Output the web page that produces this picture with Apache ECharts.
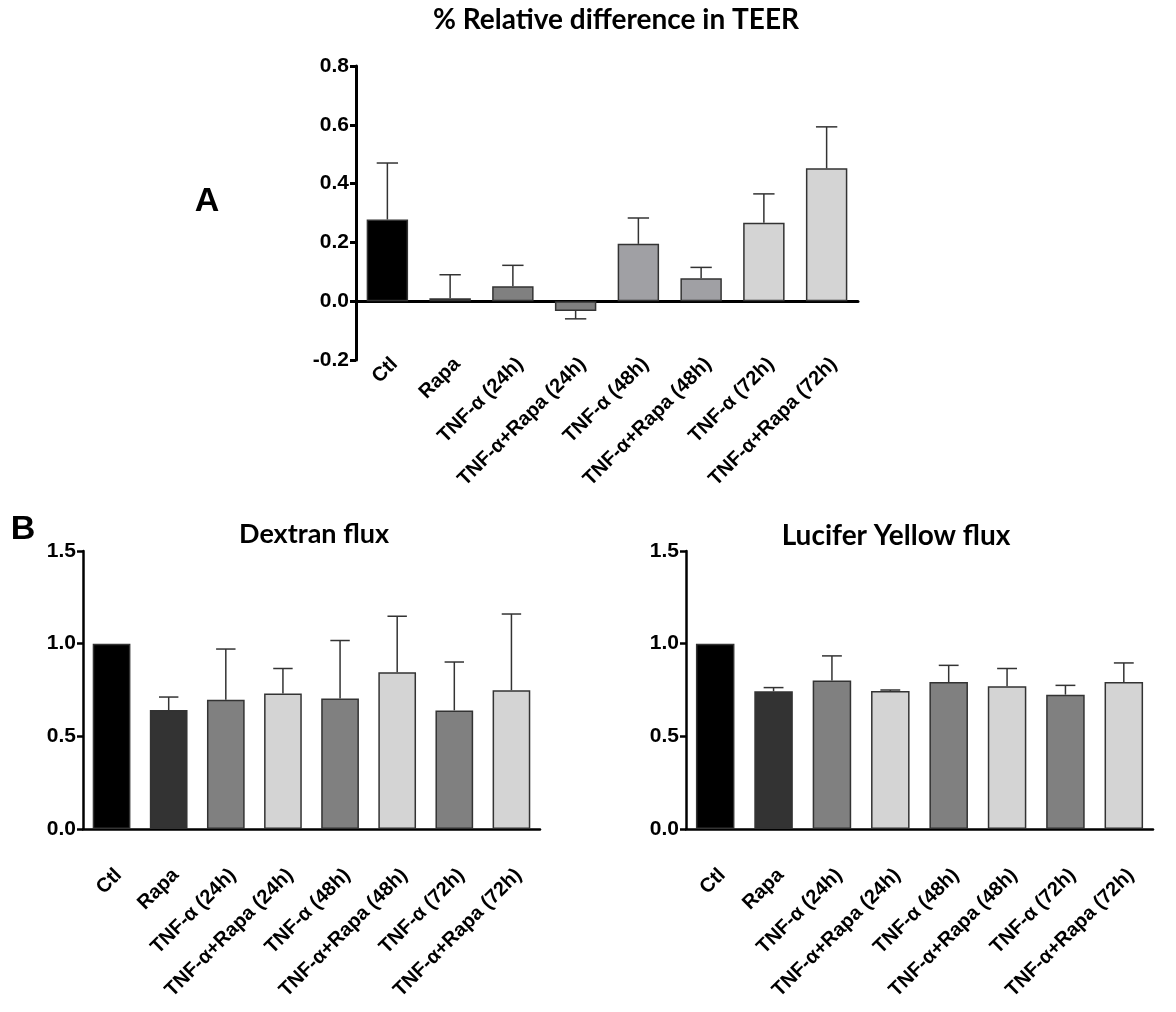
<!DOCTYPE html>
<html>
<head>
<meta charset="utf-8">
<script src="https://cdn.jsdelivr.net/npm/echarts@6/dist/echarts.min.js"></script>
<style>
  html, body { margin: 0; padding: 0; background: #fff; }
  #chart { width: 1176px; height: 1012px; }
</style>
</head>
<body>
<div id="chart"></div>
<script>
// groups on the x axis (same for all three panels)
const categories = ['Ctl', 'Rapa', 'TNF-α (24h)', 'TNF-α+Rapa (24h)', 'TNF-α (48h)', 'TNF-α+Rapa (48h)', 'TNF-α (72h)', 'TNF-α+Rapa (72h)']

// A: % relative difference in TEER (mean, and end of the error bar)
const teerMean = [0.278, 0.01, 0.051, -0.033, 0.195, 0.078, 0.267, 0.452]
const teerErr = [0.470, 0.09, 0.122, -0.060, 0.283, 0.115, 0.365, 0.593]

// B: Dextran flux
const dextranMean = [1.0, 0.642, 0.698, 0.731, 0.704, 0.846, 0.640, 0.749]
const dextranErr = [null, 0.712, 0.971, 0.866, 1.017, 1.148, 0.901, 1.160]

// B: Lucifer Yellow flux
const luciferMean = [1.0, 0.743, 0.801, 0.745, 0.793, 0.770, 0.725, 0.793]
const luciferErr = [null, 0.763, 0.934, 0.750, 0.883, 0.866, 0.775, 0.896]

// y axis ticks
const teerTicks = { min: -0.2, max: 0.8, interval: 0.2 }
const fluxTicks = { min: 0, max: 1.5, interval: 0.5 }

const teerColors = ['#000000', '#2b2b2b', '#808080', '#808080', '#a0a0a4', '#a0a0a4', '#d4d4d4', '#d4d4d4']
const fluxColors = ['#000000', '#333333', '#808080', '#d4d4d4', '#808080', '#d4d4d4', '#808080', '#d4d4d4']

const chart = echarts.init(document.getElementById('chart'))

const sansBold = { fontFamily: 'Liberation Sans, Arial, sans-serif', fontWeight: 'bold', color: '#000' }
const titleFont = 'Lato, "Open Sans", sans-serif'

function xAxisOf (gridIndex, lineW, margin) {
    return {
        type: 'category',
        gridIndex: gridIndex,
        data: categories,
        axisLine: { onZero: true, lineStyle: { color: '#000', width: lineW } },
        axisTick: { alignWithLabel: true, length: 7, lineStyle: { color: '#000', width: lineW } },
        axisLabel: Object.assign({
            rotate: 45,
            interval: 0,
            fontSize: 20,
            margin: margin,
            verticalAlign: 'top'
        }, sansBold),
        splitLine: { show: false }
    }
}

function yAxisOf (gridIndex, ticks, lineW) {
    return {
        type: 'value',
        gridIndex: gridIndex,
        min: ticks.min,
        max: ticks.max,
        interval: ticks.interval,
        axisLine: { show: true, lineStyle: { color: '#000', width: lineW } },
        axisTick: { show: true, length: 6, lineStyle: { color: '#000', width: lineW } },
        axisLabel: Object.assign({
            fontSize: 21,
            margin: 7,
            formatter: v => v.toFixed(1)
        }, sansBold),
        splitLine: { show: false }
    }
}

function barSeries (idx, means, colors) {
    return {
        type: 'bar',
        xAxisIndex: idx,
        yAxisIndex: idx,
        barWidth: '66%',
        data: means.map((v, i) => ({
            value: v,
            itemStyle: { color: colors[i] }
        })),
        itemStyle: { borderColor: '#333', borderWidth: 1.5 },
        z: 3
    }
}

// error bar: stem from the mean to the end value, plus a cap
function renderError (params, api) {
    const end = api.value(2)
    if (end === null || isNaN(end)) return
    const p0 = api.coord([api.value(0), api.value(1)])
    const p1 = api.coord([api.value(0), end])
    const half = api.size([1, 0])[0] * 0.17
    const style = { stroke: '#333', lineWidth: 1.5 }
    return {
        type: 'group',
        children: [
            { type: 'line', shape: { x1: p0[0], y1: p0[1], x2: p1[0], y2: p1[1] }, style: style },
            { type: 'line', shape: { x1: p1[0] - half, y1: p1[1], x2: p1[0] + half, y2: p1[1] }, style: style }
        ]
    }
}

function errorSeries (idx, means, errs) {
    return {
        type: 'custom',
        xAxisIndex: idx,
        yAxisIndex: idx,
        renderItem: renderError,
        data: means.map((v, i) => [i, v, errs[i]]),
        z: 2,
        silent: true
    }
}

function heading (text, x, y, size) {
    return {
        type: 'text',
        x: x,
        y: y,
        style: {
            text: text,
            fontSize: size,
            fontWeight: 'bold',
            fontFamily: titleFont,
            fill: '#000',
            align: 'center',
            verticalAlign: 'middle'
        }
    }
}

function panelLetter (text, x, y) {
    return {
        type: 'text',
        x: x,
        y: y,
        style: {
            text: text,
            fontSize: 34,
            fontWeight: 'bold',
            fontFamily: 'Liberation Sans, Arial, sans-serif',
            fill: '#000',
            align: 'center',
            verticalAlign: 'middle'
        }
    }
}

chart.setOption({
    animation: false,
    backgroundColor: '#fff',
    grid: [
        { left: 356, top: 66, width: 502, height: 294 },
        { left: 83, top: 551, width: 457, height: 278 },
        { left: 686, top: 551, width: 467, height: 278 }
    ],
    xAxis: [
        xAxisOf(0, 3, -6),
        xAxisOf(1, 2.5, 36),
        xAxisOf(2, 2.5, 36)
    ],
    yAxis: [
        yAxisOf(0, teerTicks, 3),
        yAxisOf(1, fluxTicks, 2.5),
        yAxisOf(2, fluxTicks, 2.5)
    ],
    series: [
        barSeries(0, teerMean, teerColors),
        errorSeries(0, teerMean, teerErr),
        barSeries(1, dextranMean, fluxColors),
        errorSeries(1, dextranMean, dextranErr),
        barSeries(2, luciferMean, fluxColors),
        errorSeries(2, luciferMean, luciferErr)
    ],
    graphic: [
        heading('% Relative difference in TEER', 616, 20, 28),
        heading('Dextran flux', 314, 534, 27),
        heading('Lucifer Yellow flux', 896, 536, 28),
        panelLetter('A', 207, 202),
        panelLetter('B', 23, 530)
    ]
})
</script>
</body>
</html>
